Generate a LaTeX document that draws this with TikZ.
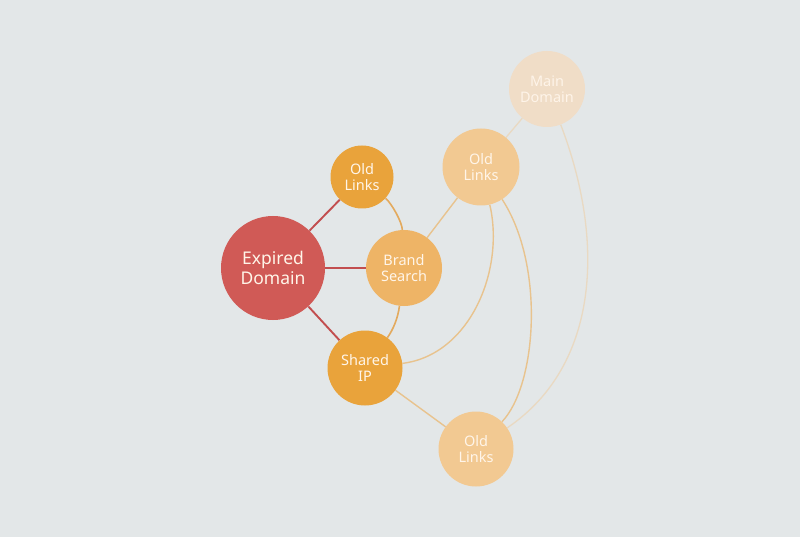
\documentclass[tikz,border=0pt]{standalone}
\usepackage{fontspec}
\setmainfont{Noto Sans}
\usetikzlibrary{backgrounds}
\definecolor{bgc}{HTML}{E3E7E8}
\definecolor{redc}{HTML}{D05A56}
\definecolor{orc}{HTML}{E9A33B}
\definecolor{brc}{HTML}{EEB466}
\definecolor{ltc}{HTML}{F2C992}
\definecolor{mdc}{HTML}{F0DDC7}
\definecolor{txc}{HTML}{FFF5E9}
\definecolor{redl}{HTML}{C24E4F}
\definecolor{orl}{HTML}{E3AA5E}
\definecolor{ltl}{HTML}{E8C38E}
\definecolor{mdl}{HTML}{E9D9C2}
\tikzset{
  circ/.style={circle, draw=none, inner sep=0pt, align=center, text=txc,
    font=\fontsize{14.5}{16.5}\selectfont},
  big/.style={circ, font=\fontsize{17.5}{20}\selectfont},
  redline/.style={draw=redl, line width=1.9pt},
  orline/.style={draw=orl, line width=1.6pt},
  ltline/.style={draw=ltl, line width=1.4pt},
  mdline/.style={draw=mdl, line width=1.3pt}
}
\begin{document}
\begin{tikzpicture}[x=1pt,y=-1pt]
\useasboundingbox (0,0) rectangle (800,537);
\node[big, fill=redc, minimum size=104pt] (exp) at (273,268) {Expired\\Domain};
\node[circ, fill=orc, minimum size=63pt] (olt) at (362,177) {Old\\Links};
\node[circ, fill=brc, minimum size=76pt] (bs) at (404,268) {Brand\\Search};
\node[circ, fill=orc, minimum size=75pt] (sip) at (365,368) {Shared\\IP};
\node[circ, fill=ltc, minimum size=77pt] (olr) at (481,167) {Old\\Links};
\node[circ, fill=ltc, minimum size=75pt] (olb) at (476,449) {Old\\Links};
\node[circ, fill=mdc, minimum size=76pt, text=white!60!mdc!20!txc] (md) at (547,89) {Main\\Domain};
\begin{scope}[on background layer]
\fill[bgc] (0,0) rectangle (800,537);
\draw[redline] (exp) -- (olt);
\draw[redline] (exp) -- (bs);
\draw[redline] (exp) -- (sip);
\draw[orline] (olt) .. controls (392,204) and (402,222) .. (bs);
\draw[orline] (bs) .. controls (398,318) and (393,330) .. (sip);
\draw[ltline] (bs) -- (olr);
\draw[ltline] (sip) .. controls (470,355) and (505,270) .. (olr);
\draw[ltline] (sip) -- (olb);
\draw[ltline] (olr) .. controls (545,265) and (537,385) .. (olb);
\draw[mdline] (md) -- (olr);
\draw[mdline] (md) .. controls (605,240) and (600,365) .. (olb);
\end{scope}
\end{tikzpicture}
\end{document}
